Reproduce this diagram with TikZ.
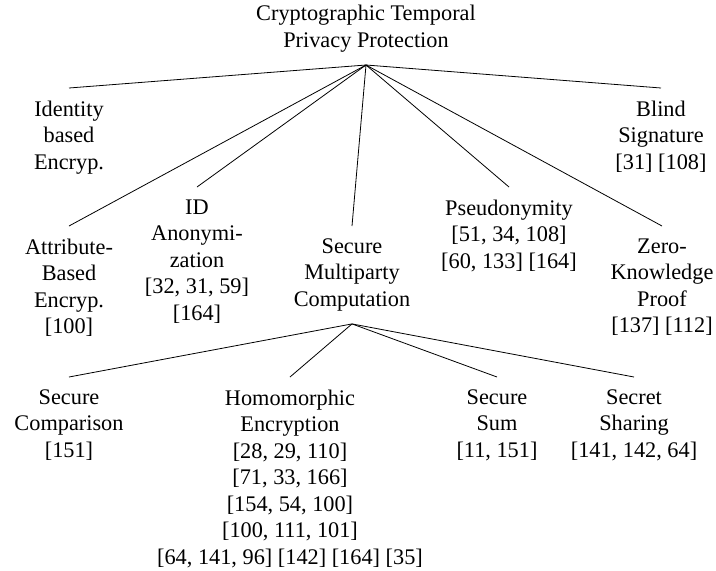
\documentclass[tikz,border=0pt]{standalone}
\usepackage{fontspec}
\setmainfont{Liberation Serif}
\usepackage{tikz}
\usetikzlibrary{positioning}

\begin{document}
\begin{tikzpicture}[x=1pt,y=1pt,yscale=-1,xscale=1,
    leaf/.style={anchor=north,align=center,inner xsep=1pt,inner ysep=12.5pt,
        font=\fontsize{22.3}{26.5}\selectfont},
    branch/.style={line width=0.8pt}]
        %set diagram to 716 x 571
        \useasboundingbox (0,0) rectangle (716,571);
        % Text Node
        \node [leaf,anchor=south] (ctpp) at (366,65) {Cryptographic Temporal\\Privacy Protection};
        % Text Node
        \node [leaf] (ibe) at (69,88) {Identity\\based\\Encryp.};
        % Text Node
        \node [leaf] (blind) at (661,88) {Blind\\Signature\\{}[31] [108]};
        % Text Node
        \node [leaf] (abe) at (69,226) {Attribute-\\Based\\Encryp.\\{}[100]};
        % Text Node
        \node [leaf] (idanon) at (197,187) {ID\\Anonymi-\\zation\\{}[32, 31, 59]\\{}[164]};
        % Text Node
        \node [leaf] (smc) at (352,226) {Secure\\Multiparty\\Computation};
        % Text Node
        \node [leaf] (pseudo) at (509,187) {Pseudonymity\\{}[51, 34, 108]\\{}[60, 133] [164]};
        % Text Node
        \node [leaf] (zkp) at (662,226) {Zero-\\Knowledge\\Proof\\{}[137] [112]};
        % Text Node
        \node [leaf] (scomp) at (69,377) {Secure\\Comparison\\{}[151]};
        % Text Node
        \node [leaf] (homenc) at (290,377) {Homomorphic\\Encryption\\{}[28, 29, 110]\\{}[71, 33, 166]\\{}[154, 54, 100]\\{}[100, 111, 101]\\{}[64, 141, 96] [142] [164] [35]};
        % Text Node
        \node [leaf] (ssum) at (497,377) {Secure\\Sum\\{}[11, 151]};
        % Text Node
        \node [leaf] (sshare) at (634,377) {Secret\\Sharing\\{}[141, 142, 64]};
        %Straight Lines
        \foreach \kid in {ibe,blind,abe,idanon,smc,pseudo,zkp}
            \draw [branch] (ctpp.south) -- (\kid.north);
        %Straight Lines
        \foreach \kid in {scomp,homenc,ssum,sshare}
            \draw [branch] (smc.south) -- (\kid.north);
\end{tikzpicture}
\end{document}
